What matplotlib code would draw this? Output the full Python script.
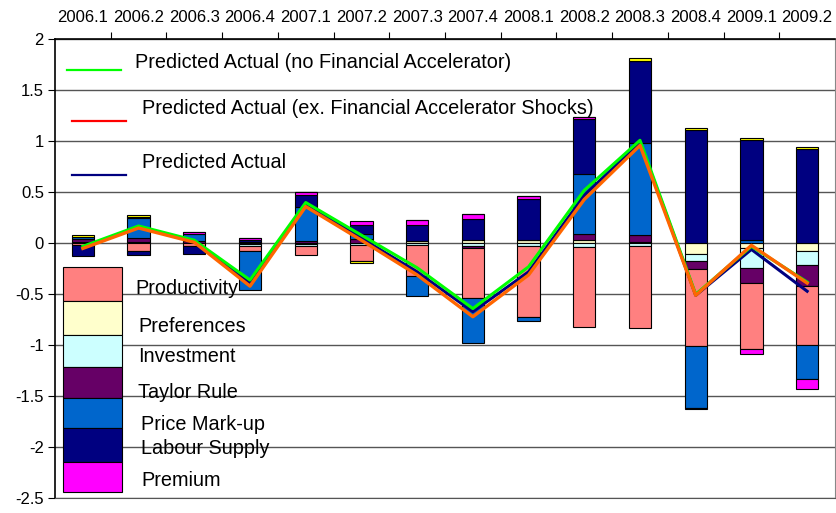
import matplotlib
matplotlib.use("Agg")
import matplotlib.pyplot as plt
from matplotlib.lines import Line2D
from matplotlib.patches import Rectangle
import numpy as np

plt.rcParams['font.family'] = ['Liberation Sans', 'DejaVu Sans']

quarters = ['2006.1', '2006.2', '2006.3', '2006.4', '2007.1', '2007.2', '2007.3',
            '2007.4', '2008.1', '2008.2', '2008.3', '2008.4', '2009.1', '2009.2']

# contributions, in stacking order
preferences = [0.005, 0.005, 0.005, -0.01, -0.01, 0.0, 0.02, 0.03, 0.03, 0.03, 0.01, -0.10, -0.05, -0.08]
investment = [0.005, 0.005, 0.0, -0.02, -0.02, -0.02, -0.02, -0.03, -0.03, -0.04, -0.03, -0.07, -0.19, -0.13]
taylor_rule = [0.03, 0.04, 0.02, 0.01, 0.02, 0.04, 0.0, -0.02, 0.0, 0.06, 0.075, -0.08, -0.15, -0.21]
productivity = [-0.02, -0.08, -0.03, -0.05, -0.08, -0.15, -0.30, -0.49, -0.69, -0.78, -0.80, -0.76, -0.65, -0.58]
price_markup = [0.02, 0.20, 0.07, -0.38, 0.34, 0.05, -0.20, -0.44, -0.04, 0.59, 0.90, -0.60, 0.03, -0.33]
labour_supply = [-0.10, -0.03, -0.07, 0.02, 0.11, 0.09, 0.16, 0.21, 0.40, 0.535, 0.80, 1.11, 0.98, 0.92]
premium = [0.005, 0.01, 0.02, 0.02, 0.03, 0.04, 0.05, 0.05, 0.035, 0.027, 0.0, -0.015, -0.045, -0.10]
other = [0.02, 0.02, 0.0, 0.0, 0.0, -0.02, 0.0, 0.0, 0.0, 0.0, 0.03, 0.02, 0.025, 0.02]

pred_no_fa = [-0.03, 0.17, 0.03, -0.36, 0.40, 0.08, -0.24, -0.64, -0.23, 0.52, 1.01, -0.50, -0.03, -0.38]
pred_ex_fa = [-0.05, 0.15, 0.01, -0.42, 0.36, 0.03, -0.31, -0.72, -0.31, 0.43, 0.96, -0.51, -0.02, -0.39]
pred_actual = [-0.04, 0.16, 0.02, -0.39, 0.38, 0.05, -0.28, -0.67, -0.28, 0.47, 0.99, -0.51, -0.06, -0.47]

series = [
    (preferences, '#FFFFCC'),
    (investment, '#CCFFFF'),
    (taylor_rule, '#660066'),
    (productivity, '#FF8080'),
    (price_markup, '#0066CC'),
    (labour_supply, '#000080'),
    (premium, '#FF00FF'),
    (other, '#FFFF00'),
]

fig = plt.figure(figsize=(8.37, 5.13), dpi=100)
W, H = 837.0, 513.0
ax = fig.add_axes([55 / W, 1 - 498.3 / H, 780 / W, (498.3 - 39.3) / H])

x = np.arange(len(quarters))
pos_base = np.zeros(len(quarters))
neg_base = np.zeros(len(quarters))
for vals, col in series:
    v = np.array(vals)
    base = np.where(v >= 0, pos_base, neg_base)
    ax.bar(x, v, 0.4, bottom=base, color=col, edgecolor='black', linewidth=0.8, zorder=2)
    pos_base += np.where(v >= 0, v, 0)
    neg_base += np.where(v < 0, v, 0)

ax.plot(x, pred_actual, color='#000080', lw=2.2, zorder=3)
ax.plot(x, pred_no_fa, color='#00FF00', lw=2.2, zorder=4)
ax.plot(x, pred_ex_fa, color='#FF6600', lw=2.4, zorder=5)

ax.set_xlim(-0.5, len(quarters) - 0.5)
ax.set_ylim(-2.5, 2)
yt = np.arange(-2.5, 2.01, 0.5)
ax.set_yticks(yt)
ax.set_yticklabels(['%g' % t for t in yt], fontsize=12)
ax.yaxis.grid(True, color='#555555', lw=1, zorder=0)
ax.set_axisbelow(True)

ax.xaxis.tick_top()
ax.set_xticks(np.arange(0.5, len(quarters) - 1, 1))
ax.set_xticklabels([])
ax.set_xticks(x, minor=True)
ax.set_xticklabels(quarters, minor=True, fontsize=12)
ax.tick_params(axis='x', which='major', length=5, color='black', direction='out')
ax.tick_params(axis='x', which='minor', length=0, pad=10)
ax.tick_params(axis='y', length=5, direction='out', pad=3)

for s in ['top', 'left']:
    ax.spines[s].set_color('black')
    ax.spines[s].set_linewidth(1.2)
ax.spines['right'].set_color('#888888')
ax.spines['bottom'].set_color('#555555')


def fx(px):
    return px / W


def fy(py):
    return 1 - py / H


# line legend
line_items = [
    ('#00FF00', 'Predicted Actual (no Financial Accelerator)', 67, 121, 70, 135, 63),
    ('#FF0000', 'Predicted Actual (ex. Financial Accelerator Shocks)', 72, 126, 121, 142, 109),
    ('#000080', 'Predicted Actual', 72, 126, 175, 142, 163),
]
for col, lab, x0, x1, ly, tx, ty in line_items:
    fig.add_artist(Line2D([fx(x0), fx(x1)], [fy(ly), fy(ly)], color=col, lw=1.6))
    fig.text(fx(tx), fy(ty), lab, fontsize=14.3, va='center', ha='left')

# patch legend
patch_items = [
    ('#FF8080', 'Productivity', 267, 301, 135, 289),
    ('#FFFFCC', 'Preferences', 301, 335, 138, 327),
    ('#CCFFFF', 'Investment', 335, 367, 138, 357),
    ('#660066', 'Taylor Rule', 367, 398, 138, 393),
    ('#0066CC', 'Price Mark-up', 398, 428, 141, 424),
    ('#000080', 'Labour Supply', 428, 462, 141, 448),
    ('#FF00FF', 'Premium', 462, 492, 141, 481),
]
for col, lab, y0, y1, tx, ty in patch_items:
    fig.add_artist(Rectangle((fx(63), fy(y1)), fx(122) - fx(63), fy(y0) - fy(y1),
                             facecolor=col, edgecolor='black', lw=0.8, zorder=6))
    fig.text(fx(tx), fy(ty), lab, fontsize=14.3, va='center', ha='left', zorder=7)

fig.savefig('out.png', dpi=100)
